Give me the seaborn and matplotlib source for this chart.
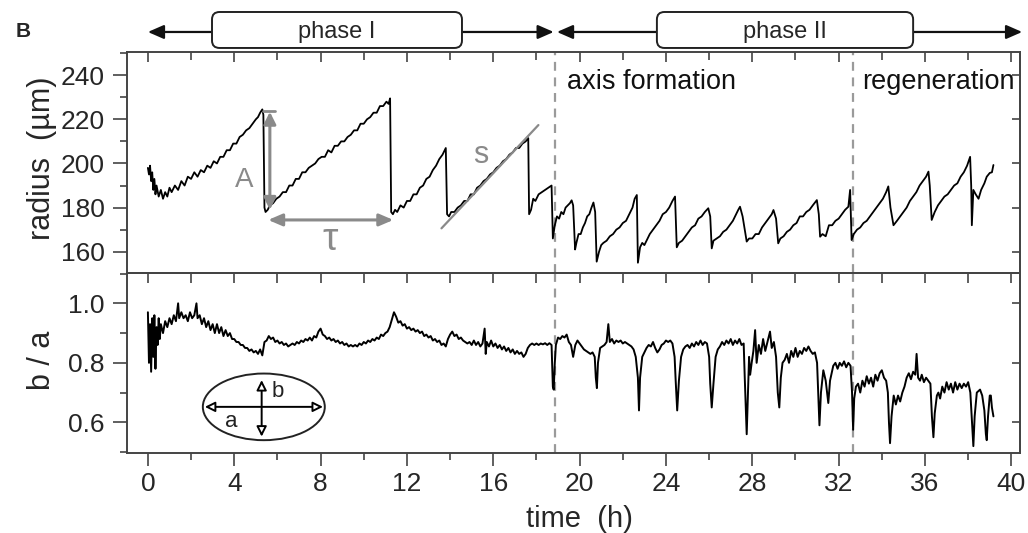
import matplotlib.pyplot as plt
import matplotlib.transforms as mtransforms
from matplotlib.patches import Ellipse, FancyBboxPatch
from matplotlib.ticker import MultipleLocator
import seaborn as sns

# ── Data ───────────────────────────────────────────────
# upper panel: radius (um) vs time (h)
t_radius = [0.0, 0.05, 0.1, 0.15, 0.2, 0.25, 0.3, 0.35, 0.4, 0.5, 0.6, 0.7, 0.8, 0.9, 1.0, 1.1, 1.25, 1.4,
            1.55, 1.7, 1.85, 2.0, 2.15, 2.3, 2.45, 2.6, 2.75, 2.9, 3.05, 3.2, 3.35, 3.5, 3.65, 3.8, 3.95,
            4.1, 4.25, 4.4, 4.55, 4.7, 4.85, 5.0, 5.1, 5.2, 5.3, 5.35, 5.4, 5.45, 5.55, 5.65, 5.8, 5.95,
            6.1, 6.25, 6.4, 6.55, 6.7, 6.85, 7.0, 7.15, 7.3, 7.45, 7.6, 7.75, 7.9, 8.05, 8.2, 8.35, 8.5,
            8.65, 8.8, 8.95, 9.1, 9.25, 9.4, 9.55, 9.7, 9.85, 10.0, 10.15, 10.3, 10.45, 10.6, 10.75, 10.9,
            11.05, 11.15, 11.22, 11.27, 11.35, 11.45, 11.55, 11.7, 11.85, 12.0, 12.15, 12.3, 12.45, 12.6,
            12.75, 12.9, 13.05, 13.2, 13.35, 13.5, 13.65, 13.8, 13.86, 13.95, 14.05, 14.2, 14.35, 14.5,
            14.65, 14.8, 14.95, 15.1, 15.25, 15.4, 15.55, 15.7, 15.85, 16.0, 16.15, 16.3, 16.45, 16.6,
            16.75, 16.9, 17.05, 17.2, 17.35, 17.5, 17.62, 17.66, 17.75, 17.85, 17.95, 18.1, 18.25, 18.4,
            18.55, 18.7, 18.76, 18.85, 18.95, 19.05, 19.15, 19.25, 19.35, 19.45, 19.55, 19.63, 19.7,
            19.79, 19.85, 19.95, 20.05, 20.15, 20.25, 20.35, 20.45, 20.55, 20.64, 20.72, 20.79, 20.9,
            21.0, 21.1, 21.25, 21.4, 21.55, 21.7, 21.85, 22.0, 22.15, 22.3, 22.45, 22.55, 22.65, 22.7,
            22.8, 22.9, 23.0, 23.1, 23.25, 23.4, 23.55, 23.7, 23.85, 24.0, 24.15, 24.3, 24.42, 24.5,
            24.6, 24.75, 24.9, 25.05, 25.2, 25.35, 25.5, 25.65, 25.8, 25.96, 26.05, 26.12, 26.2, 26.35,
            26.5, 26.65, 26.8, 26.95, 27.1, 27.25, 27.35, 27.43, 27.55, 27.74, 27.85, 28.0, 28.15, 28.3,
            28.45, 28.6, 28.75, 28.9, 28.98, 29.1, 29.2, 29.3, 29.45, 29.6, 29.75, 29.9, 30.05, 30.2,
            30.35, 30.5, 30.65, 30.8, 30.99, 31.08, 31.14, 31.25, 31.4, 31.55, 31.7, 31.85, 32.0, 32.15,
            32.3, 32.45, 32.53, 32.6, 32.7, 32.85, 33.0, 33.15, 33.3, 33.45, 33.6, 33.75, 33.9, 34.05,
            34.2, 34.3, 34.4, 34.54, 34.7, 34.85, 35.0, 35.15, 35.3, 35.45, 35.6, 35.75, 35.9, 36.05,
            36.16, 36.22, 36.31, 36.45, 36.6, 36.75, 36.9, 37.05, 37.2, 37.35, 37.5, 37.65, 37.8, 37.95,
            38.09, 38.14, 38.17, 38.24, 38.35, 38.48, 38.6, 38.75, 38.86, 39.0, 39.1, 39.17]
radius = [198, 195, 199, 192, 196, 188, 193, 186, 190, 185, 188, 184, 187, 185, 189, 187, 190, 188,
          192, 190, 194, 193, 196, 194, 197, 196, 199, 198, 201, 200, 203, 203, 206, 206, 209,
          209, 212, 213, 215, 216, 218, 220, 221, 223, 224.5, 222, 180, 178, 179, 181, 182, 184,
          185, 187, 187, 190, 190, 193, 193, 196, 196, 198, 199, 200, 202, 203, 203, 206, 205,
          208, 208, 210, 210, 212, 213, 215, 215, 218, 218, 220, 221, 223, 223, 226, 226,
          228, 227, 229.5, 178, 177, 179, 178, 181, 180, 183, 183, 186, 186, 189,
          190, 193, 194, 197, 199, 202, 204, 207, 177, 176, 178, 178, 180, 181,
          183, 183, 186, 186, 189, 190, 192, 193, 195, 196, 198, 199, 201, 202,
          204, 205, 207, 207, 209, 210, 211.5, 177, 179, 184, 183, 186, 187, 188,
          189, 190, 166, 172, 176, 175, 178, 177, 180, 181, 182, 183.3, 181,
          161, 164, 168, 168, 171, 173, 176, 177, 180, 182.3, 178, 155.5, 160,
          163, 164, 165, 167, 168, 170, 171, 173, 174, 177, 180, 184, 185.7, 155,
          162, 164, 163, 165, 168, 170, 172, 174, 177, 178, 180, 183, 185, 162,
          164, 165, 167, 169, 171, 172, 175, 176, 178, 179.7, 176, 161.5, 165, 166,
          167, 169, 170, 172, 174, 177, 179, 180.4, 176, 164.6, 166, 166, 168, 168,
          171, 173, 175, 177, 178.9, 175, 163.8, 166, 167, 169, 170, 172, 173, 176,
          176, 178, 179, 181, 183.4, 177, 166.8, 168, 167, 172, 172, 174, 175, 177,
          179, 180.4, 188, 165.3, 168, 170, 171, 173, 174, 176, 178, 180, 182, 184,
          187, 189.6, 180, 172, 174, 176, 178, 180, 183, 185, 187, 190, 192, 194,
          196.3, 190, 174.4, 178, 181, 183, 185, 186, 188, 190, 191, 194, 196, 199,
          203, 190, 172, 188, 186, 184, 188, 191, 194, 195.7, 196, 199.3]

# lower panel: b / a vs time (h)
t_ratio = [0.0, 0.05, 0.1, 0.15, 0.2, 0.25, 0.3, 0.35, 0.4, 0.45, 0.5, 0.55, 0.6, 0.7, 0.8, 0.9, 1.0, 1.1,
           1.2, 1.3, 1.4, 1.45, 1.55, 1.65, 1.75, 1.85, 1.95, 2.05, 2.15, 2.25, 2.3, 2.4, 2.5, 2.6, 2.7,
           2.8, 2.9, 3.0, 3.1, 3.2, 3.3, 3.4, 3.5, 3.6, 3.7, 3.8, 3.9, 4.0, 4.1, 4.2, 4.3, 4.4, 4.5, 4.6,
           4.7, 4.8, 4.9, 5.0, 5.1, 5.2, 5.3, 5.4, 5.5, 5.6, 5.7, 5.8, 5.9, 6.0, 6.1, 6.2, 6.3, 6.4, 6.5,
           6.6, 6.7, 6.8, 6.9, 7.0, 7.1, 7.2, 7.3, 7.4, 7.5, 7.6, 7.7, 7.8, 7.9, 8.0, 8.1, 8.2, 8.3, 8.4,
           8.5, 8.6, 8.7, 8.8, 8.9, 9.0, 9.1, 9.2, 9.3, 9.4, 9.5, 9.6, 9.7, 9.8, 9.9, 10.0, 10.1, 10.2,
           10.3, 10.4, 10.5, 10.6, 10.7, 10.8, 10.9, 11.0, 11.1, 11.2, 11.3, 11.4, 11.5, 11.6, 11.7,
           11.8, 11.9, 12.0, 12.1, 12.2, 12.3, 12.4, 12.5, 12.6, 12.7, 12.8, 12.9, 13.0, 13.1, 13.2,
           13.3, 13.4, 13.5, 13.6, 13.7, 13.8, 13.9, 14.0, 14.1, 14.2, 14.3, 14.4, 14.5, 14.6, 14.7,
           14.8, 14.9, 15.0, 15.1, 15.2, 15.3, 15.4, 15.5, 15.6, 15.65, 15.7, 15.8, 15.9, 16.0, 16.1,
           16.2, 16.3, 16.4, 16.5, 16.6, 16.7, 16.8, 16.9, 17.0, 17.1, 17.2, 17.3, 17.4, 17.5, 17.6,
           17.7, 17.8, 17.9, 18.0, 18.1, 18.2, 18.3, 18.4, 18.5, 18.6, 18.7, 18.76, 18.8, 18.85, 18.9,
           19.0, 19.1, 19.2, 19.3, 19.4, 19.5, 19.6, 19.7, 19.8, 19.9, 20.0, 20.1, 20.2, 20.3, 20.4,
           20.5, 20.6, 20.7, 20.75, 20.8, 20.85, 20.95, 21.05, 21.15, 21.25, 21.33, 21.4, 21.5, 21.6,
           21.7, 21.8, 21.9, 22.0, 22.1, 22.2, 22.3, 22.4, 22.5, 22.6, 22.7, 22.75, 22.8, 22.9, 23.0,
           23.1, 23.2, 23.3, 23.4, 23.5, 23.6, 23.7, 23.8, 23.9, 24.0, 24.1, 24.2, 24.3, 24.4, 24.45,
           24.52, 24.6, 24.7, 24.8, 24.9, 25.0, 25.1, 25.2, 25.3, 25.4, 25.5, 25.6, 25.7, 25.8, 25.9,
           26.0, 26.05, 26.12, 26.2, 26.3, 26.4, 26.5, 26.6, 26.7, 26.8, 26.9, 27.0, 27.1, 27.2, 27.3,
           27.4, 27.5, 27.6, 27.65, 27.74, 27.8, 27.85, 27.9, 27.97, 28.05, 28.13, 28.2, 28.3, 28.4,
           28.5, 28.6, 28.7, 28.82, 28.9, 29.0, 29.1, 29.18, 29.25, 29.32, 29.4, 29.5, 29.6, 29.7,
           29.8, 29.9, 30.0, 30.1, 30.2, 30.3, 30.4, 30.5, 30.6, 30.7, 30.8, 30.9, 31.0, 31.05, 31.11,
           31.18, 31.29, 31.4, 31.52, 31.6, 31.75, 31.85, 31.95, 32.05, 32.15, 32.25, 32.35, 32.45,
           32.55, 32.62, 32.67, 32.72, 32.8, 32.9, 33.0, 33.1, 33.2, 33.3, 33.4, 33.5, 33.6, 33.7,
           33.8, 33.9, 34.0, 34.1, 34.2, 34.28, 34.33, 34.38, 34.45, 34.55, 34.65, 34.75, 34.85,
           34.95, 35.05, 35.15, 35.25, 35.35, 35.45, 35.55, 35.61, 35.68, 35.77, 35.85, 35.95, 36.05,
           36.15, 36.25, 36.32, 36.39, 36.45, 36.55, 36.62, 36.7, 36.8, 36.9, 37.0, 37.1, 37.2, 37.3,
           37.4, 37.5, 37.6, 37.7, 37.8, 37.9, 38.0, 38.1, 38.18, 38.24, 38.3, 38.4, 38.55, 38.65,
           38.75, 38.82, 38.86, 38.92, 39.0, 39.05, 39.1, 39.17]
ratio = [0.97, 0.80, 0.93, 0.77, 0.95, 0.82, 0.96, 0.78, 0.92, 0.86, 0.95, 0.88, 0.93, 0.90, 0.94, 0.92, 0.95, 0.93,
         0.96, 0.94, 1.00, 0.95, 0.97, 0.95, 0.96, 0.94, 0.97, 0.95, 0.96, 1.00, 0.95, 0.96, 0.93, 0.95, 0.92,
         0.94, 0.91, 0.93, 0.90, 0.93, 0.90, 0.92, 0.89, 0.91, 0.89, 0.90, 0.88, 0.88, 0.87, 0.87, 0.86, 0.86, 0.85, 0.85,
         0.84, 0.845, 0.835, 0.84, 0.83, 0.845, 0.825, 0.87, 0.875, 0.89, 0.88, 0.885, 0.87, 0.875, 0.865, 0.87, 0.86, 0.865, 0.855,
         0.86, 0.865, 0.86, 0.87, 0.865, 0.875, 0.87, 0.88, 0.875, 0.885, 0.875, 0.89, 0.885, 0.905, 0.915, 0.895, 0.89, 0.88, 0.885,
         0.875, 0.88, 0.87, 0.875, 0.865, 0.87, 0.86, 0.865, 0.855, 0.86, 0.855, 0.86, 0.855, 0.865, 0.86, 0.87, 0.865, 0.875,
         0.87, 0.88, 0.875, 0.885, 0.88, 0.895, 0.89, 0.90, 0.905, 0.92, 0.945, 0.97, 0.955, 0.935, 0.94,
         0.925, 0.93, 0.915, 0.92, 0.91, 0.915, 0.905, 0.91, 0.90, 0.905, 0.89, 0.895, 0.885, 0.89, 0.875,
         0.88, 0.87, 0.875, 0.86, 0.865, 0.855, 0.88, 0.895, 0.905, 0.89, 0.895, 0.88, 0.885, 0.875, 0.87,
         0.865, 0.87, 0.86, 0.875, 0.86, 0.87, 0.855, 0.865, 0.915, 0.83, 0.87, 0.855, 0.875, 0.855, 0.865,
         0.85, 0.86, 0.845, 0.855, 0.84, 0.85, 0.835, 0.845, 0.83, 0.84, 0.83, 0.835, 0.82, 0.83, 0.85,
         0.86, 0.865, 0.86, 0.865, 0.86, 0.865, 0.862, 0.866, 0.86, 0.866, 0.86, 0.72, 0.71, 0.80, 0.86,
         0.885, 0.88, 0.89, 0.885, 0.895, 0.87, 0.86, 0.82, 0.86, 0.875, 0.865, 0.855, 0.845, 0.84, 0.835,
         0.83, 0.835, 0.82, 0.75, 0.715, 0.80, 0.85, 0.855, 0.86, 0.87, 0.93, 0.87, 0.88, 0.865,
         0.875, 0.87, 0.875, 0.865, 0.87, 0.865, 0.86, 0.855, 0.845, 0.82, 0.75, 0.64, 0.75, 0.82, 0.835,
         0.85, 0.86, 0.855, 0.87, 0.85, 0.835, 0.845, 0.86, 0.865, 0.875, 0.87, 0.875, 0.865, 0.82, 0.74,
         0.64, 0.74, 0.82, 0.845, 0.855, 0.86, 0.85, 0.865, 0.855, 0.87, 0.86, 0.875, 0.86, 0.87, 0.865,
         0.82, 0.73, 0.65, 0.73, 0.82, 0.845, 0.855, 0.87, 0.86, 0.875, 0.865, 0.88, 0.86, 0.875, 0.865,
         0.88, 0.86, 0.865, 0.75, 0.56, 0.70, 0.82, 0.76, 0.80, 0.84, 0.91, 0.80, 0.86, 0.83,
         0.88, 0.84, 0.87, 0.905, 0.85, 0.87, 0.82, 0.70, 0.65, 0.75, 0.80, 0.81, 0.83, 0.80,
         0.84, 0.82, 0.85, 0.82, 0.84, 0.83, 0.85, 0.84, 0.855, 0.84, 0.83, 0.835, 0.80, 0.70, 0.59,
         0.70, 0.775, 0.74, 0.665, 0.74, 0.79, 0.80, 0.78, 0.80, 0.79, 0.805, 0.785, 0.80,
         0.79, 0.70, 0.575, 0.68, 0.72, 0.73, 0.70, 0.74, 0.72, 0.755, 0.73, 0.75, 0.72, 0.76,
         0.74, 0.765, 0.775, 0.75, 0.74, 0.70, 0.60, 0.53, 0.62, 0.69, 0.66, 0.69, 0.67,
         0.70, 0.72, 0.75, 0.765, 0.745, 0.77, 0.76, 0.83, 0.75, 0.74, 0.76, 0.735, 0.75,
         0.74, 0.73, 0.62, 0.55, 0.63, 0.69, 0.70, 0.68, 0.72, 0.70, 0.735, 0.71, 0.73, 0.70,
         0.735, 0.71, 0.73, 0.715, 0.73, 0.72, 0.735, 0.70, 0.60, 0.52, 0.62, 0.70, 0.71, 0.69,
         0.64, 0.56, 0.54, 0.62, 0.69, 0.69, 0.65, 0.62]

phase_names = ['phase I', 'phase II']
phase_start = [0.0, 18.95]
phase_end = [18.8, 40.5]
phase_box_left = [2.97, 23.58]
phase_box_right = [14.55, 35.45]
stage_lines = [18.86, 32.67]
stage_names = ['axis formation', 'regeneration']
stage_text_x = [19.4, 33.1]

# ── Style ──────────────────────────────────────────────
sns.set_theme(style='ticks')
plt.rcParams['font.family'] = ['Liberation Sans', 'DejaVu Sans']
spine_col = '#444444'
gray = '#8a8a8a'

fig = plt.figure(figsize=(10.28, 5.33), dpi=100)
ax1 = fig.add_axes([0.1235, 0.4884, 0.8687, 0.414])
ax2 = fig.add_axes([0.1235, 0.1507, 0.8687, 0.3377])

sns.lineplot(x=t_radius, y=radius, ax=ax1, color='black', lw=1.3, estimator=None, sort=False)
sns.lineplot(x=t_ratio, y=ratio, ax=ax2, color='black', lw=1.4, estimator=None, sort=False)

for ax in (ax1, ax2):
    ax.set_xlim(-0.97, 40.4)
    for s in ax.spines.values():
        s.set_visible(True)
        s.set_color(spine_col)
        s.set_linewidth(1.4)
    for xv in stage_lines:
        ax.axvline(xv, color='#9a9a9a', ls=(0, (4, 3)), lw=1.6, zorder=1)

ax1.set_ylim(150.5, 250.5)
ax2.set_ylim(0.498, 1.103)

# upper panel ticks
ax1.xaxis.set_major_locator(MultipleLocator(4))
ax1.xaxis.set_minor_locator(MultipleLocator(2))
ax1.tick_params(axis='x', which='both', bottom=False, top=True, labelbottom=False,
                direction='in', color=spine_col, width=1.2)
ax1.tick_params(axis='x', which='major', length=7)
ax1.tick_params(axis='x', which='minor', length=6)
ax1.yaxis.set_major_locator(MultipleLocator(20))
ax1.yaxis.set_minor_locator(MultipleLocator(10))
ax1.tick_params(axis='y', which='both', left=True, right=False, direction='out',
                color=spine_col, width=1.2, labelsize=19, pad=6)
ax1.tick_params(axis='y', which='major', length=10)
ax1.tick_params(axis='y', which='minor', length=5)
r1 = ax1.secondary_yaxis('right')
r1.yaxis.set_major_locator(MultipleLocator(20))
r1.tick_params(direction='in', length=6, width=1.2, color=spine_col, labelright=False)
r1.spines['right'].set_color(spine_col)

# lower panel ticks
ax2.xaxis.set_major_locator(MultipleLocator(4))
ax2.xaxis.set_minor_locator(MultipleLocator(2))
ax2.tick_params(axis='x', which='both', bottom=True, top=False, direction='out',
                color=spine_col, width=1.2, labelsize=19, pad=5)
ax2.tick_params(axis='x', which='major', length=9)
ax2.tick_params(axis='x', which='minor', length=5)
t2 = ax2.secondary_xaxis('top')
t2.xaxis.set_major_locator(MultipleLocator(2))
t2.tick_params(direction='in', length=7, width=1.2, color=spine_col, labeltop=False)
t2.spines['top'].set_color(spine_col)
ax2.yaxis.set_major_locator(MultipleLocator(0.2))
ax2.yaxis.set_minor_locator(MultipleLocator(0.1))
ax2.yaxis.set_major_formatter(plt.FuncFormatter(lambda v, p: f'{v:.1f}'))
ax2.tick_params(axis='y', which='both', left=True, right=False, direction='out',
                color=spine_col, width=1.2, labelsize=19, pad=6)
ax2.tick_params(axis='y', which='major', length=10)
ax2.tick_params(axis='y', which='minor', length=5)
r2 = ax2.secondary_yaxis('right')
r2.yaxis.set_major_locator(MultipleLocator(0.2))
r2.tick_params(direction='in', length=6, width=1.2, color=spine_col, labelright=False)
r2.spines['right'].set_color(spine_col)

# labels
ax1.set_ylabel('radius  (\u00b5m)', fontsize=22)
ax1.yaxis.set_label_coords(-0.078, 0.52)
ax2.set_ylabel('b / a', fontsize=22)
ax2.yaxis.set_label_coords(-0.078, 0.515)
ax2.set_xlabel('time  (h)', fontsize=21)
ax2.xaxis.set_label_coords(0.507, -0.29)

# stage texts
for name, xs in zip(stage_names, stage_text_x):
    ax1.text(xs, 236.8, name, fontsize=19.5, ha='left', va='center', color='#111111')

# ── Annotations in upper panel: A, tau, s ─────────────
ax1.annotate('', xy=(5.65, 223.4), xytext=(5.65, 179), zorder=5,
             arrowprops=dict(arrowstyle='<|-|>,head_length=0.6,head_width=0.3', color=gray, lw=2.2,
                             shrinkA=0, shrinkB=0))
ax1.plot([5.32, 5.88], [223.8, 223.8], color=gray, lw=2)
ax1.text(4.45, 192.5, 'A', fontsize=20, color=gray, ha='center', va='center')
ax1.annotate('', xy=(5.57, 174.4), xytext=(11.37, 174.4), zorder=5,
             arrowprops=dict(arrowstyle='<|-|>,head_length=0.7,head_width=0.3', color=gray, lw=2.2,
                             shrinkA=0, shrinkB=0))
ax1.text(8.43, 165.5, '\u03c4', fontsize=28, color=gray, ha='center', va='center')
ax1.plot([13.6, 18.09], [170.6, 217.4], color=gray, lw=1.6)
ax1.text(15.4, 204, 's', fontsize=22, color=gray, ha='center', va='center')

# ── Ellipse inset in lower panel ───────────────────────
ax2.add_patch(Ellipse((5.37, 0.652), 5.65, 0.224, fill=False, ec='#222222', lw=1.4))
open_head = dict(arrowstyle='<|-|>,head_length=0.5,head_width=0.25', color='black',
                 fc='white', lw=1.4, shrinkA=0, shrinkB=0)
ax2.annotate('', xy=(2.64, 0.652), xytext=(8.11, 0.652), arrowprops=open_head)
ax2.annotate('', xy=(5.27, 0.742), xytext=(5.27, 0.552), arrowprops=open_head)
ax2.text(6.03, 0.703, 'b', fontsize=16, ha='center', va='center', color='#222222')
ax2.text(3.88, 0.602, 'a', fontsize=16, ha='center', va='center', color='#222222')

# ── Phase arrows and boxes on top ──────────────────────
trans = mtransforms.blended_transform_factory(ax1.transData, fig.transFigure)
for name, a, b, bl, br in zip(phase_names, phase_start, phase_end, phase_box_left, phase_box_right):
    ax1.annotate('', xy=(a, 0.94), xytext=(b, 0.94), xycoords=trans, textcoords=trans,
                 annotation_clip=False,
                 arrowprops=dict(arrowstyle='<|-|>,head_length=0.8,head_width=0.35',
                                 color='#111111', lw=1.6, shrinkA=0, shrinkB=0))
    box = FancyBboxPatch((bl, 0.91), br - bl, 0.0675, transform=trans,
                         boxstyle='round,pad=0,rounding_size=0.35', mutation_aspect=0.04,
                         fc='white', ec='#222222', lw=1.4, clip_on=False, zorder=10)
    fig.add_artist(box)
    fig.text((bl + br) / 2, 0.94, name, transform=trans, fontsize=17, ha='center', va='center',
             zorder=11)

fig.text(0.015, 0.94, 'B', fontsize=15, fontweight='bold', ha='left', va='center')

plt.savefig('out.png', dpi=100)
